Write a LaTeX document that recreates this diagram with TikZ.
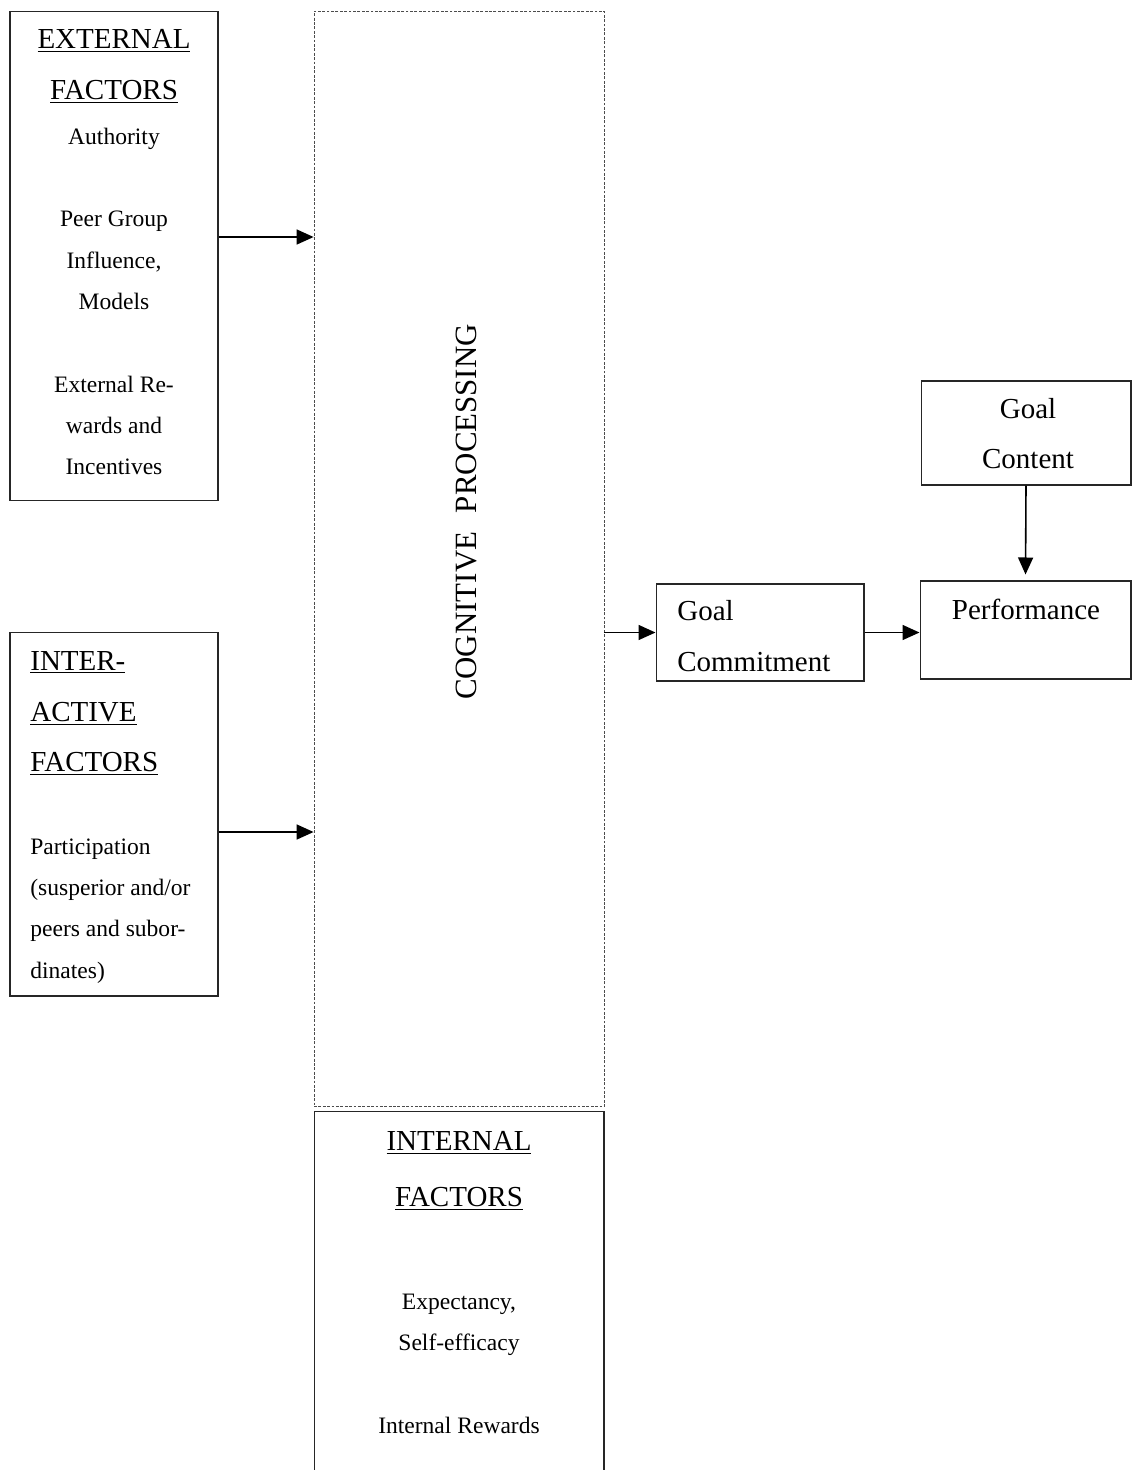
\documentclass[tikz,border=0pt]{standalone}
\usepackage{fontspec}
\setmainfont{Liberation Serif}
\usepackage{tikz}
\usetikzlibrary{
  arrows.meta,
  calc
}
\newcommand{\bigtext}{\fontsize{16.5}{28.9}\selectfont}
\newcommand{\smalltext}{\fontsize{13.4}{23.5}\selectfont}
\tikzstyle{factorbox} = [
  rectangle, draw=black!85, line width=0.6pt, inner sep=0pt
]
\tikzstyle{cogbox} = [
  rectangle, draw=black!70, line width=0.5pt,
  dash pattern=on 1.6pt off 0.9pt, inner sep=0pt
]
\tikzstyle{headtext} = [inner sep=0pt, font=\bigtext]
\tikzstyle{bodytext} = [inner sep=0pt, font=\smalltext]
\tikzstyle{arrowstyle} = [-{Triangle[length=0.34cm, width=0.3cm]}, line width=0.9pt]

\begin{document}
\begin{tikzpicture}[x=0.02cm, y=-0.02cm]

\useasboundingbox (0,0) rectangle (1132,1470);
\clip (0,0) rectangle (1132,1470);

% --- Boxes ---
\node[factorbox, minimum width=4.16cm, minimum height=9.8cm] (ext) at (114,256) {};
\node[factorbox, minimum width=4.16cm, minimum height=7.28cm] (inter) at (114,814) {};
\node[cogbox, minimum width=5.8cm, minimum height=21.92cm] (cog) at (459,559) {};
\node[factorbox, minimum width=5.8cm, minimum height=7.76cm] (int) at (459,1305) {};
\node[factorbox, minimum width=4.16cm, minimum height=1.94cm] (commit) at (760,632.5) {};
\node[factorbox, minimum width=4.2cm, minimum height=2.08cm] (content) at (1026,433) {};
\node[factorbox, minimum width=4.22cm, minimum height=1.96cm] (perf) at (1025.5,630) {};

% --- Texts ---
\node[headtext, align=center] (exthead) at (114,66.5) {\underline{EXTERNAL}\\\underline{FACTORS}};
\node[bodytext, align=center] (extbody) at (114,301.5)
  {Authority\\\mbox{}\\Peer Group\\Influence,\\Models\\\mbox{}\\External Re-\\wards and\\Incentives};
\node[headtext, align=left, anchor=west] (interhead) at (30,713.5)
  {\underline{INTER-}\\\underline{ACTIVE}\\\underline{FACTORS}};
\node[bodytext, align=left, anchor=west] (interbody) at (30,911)
  {Participation\\(susperior and/or\\peers and subor-\\dinates)};
\node[headtext, rotate=90, font=\fontsize{17.6}{20}\selectfont] (cogtext) at (466,512)
  {COGNITIVE\hspace{0.6em}PROCESSING};
\node[headtext, align=center, font=\fontsize{16.5}{31.7}\selectfont] (inthead) at (459,1171)
  {\underline{INTERNAL}\\\underline{FACTORS}};
\node[bodytext, align=center] (intbody) at (459,1364)
  {Expectancy,\\Self-efficacy\\\mbox{}\\Internal Rewards};
\node[headtext, align=left, anchor=west] (committext) at (677,636) {Goal\\Commitment};
\node[headtext, align=center] (contenttext) at (1028,433.5) {Goal\\Content};
\node[headtext] (perftext) at (1026,609) {Performance};

% --- Arrows ---
\draw[arrowstyle] ([yshift=0.38cm]ext.east) -- ([yshift=0.38cm]ext.east -| cog.west);
\draw[arrowstyle] ([yshift=-0.36cm]inter.east) -- ([yshift=-0.36cm]inter.east -| cog.west);
\draw[arrowstyle] (commit.west -| cog.east) -- (commit.west);
\draw[arrowstyle] (commit.east) -- (commit.east -| perf.west);
\draw[arrowstyle, shorten >=0.12cm] (content.south) -- (perf.north);

\end{tikzpicture}
\end{document}
